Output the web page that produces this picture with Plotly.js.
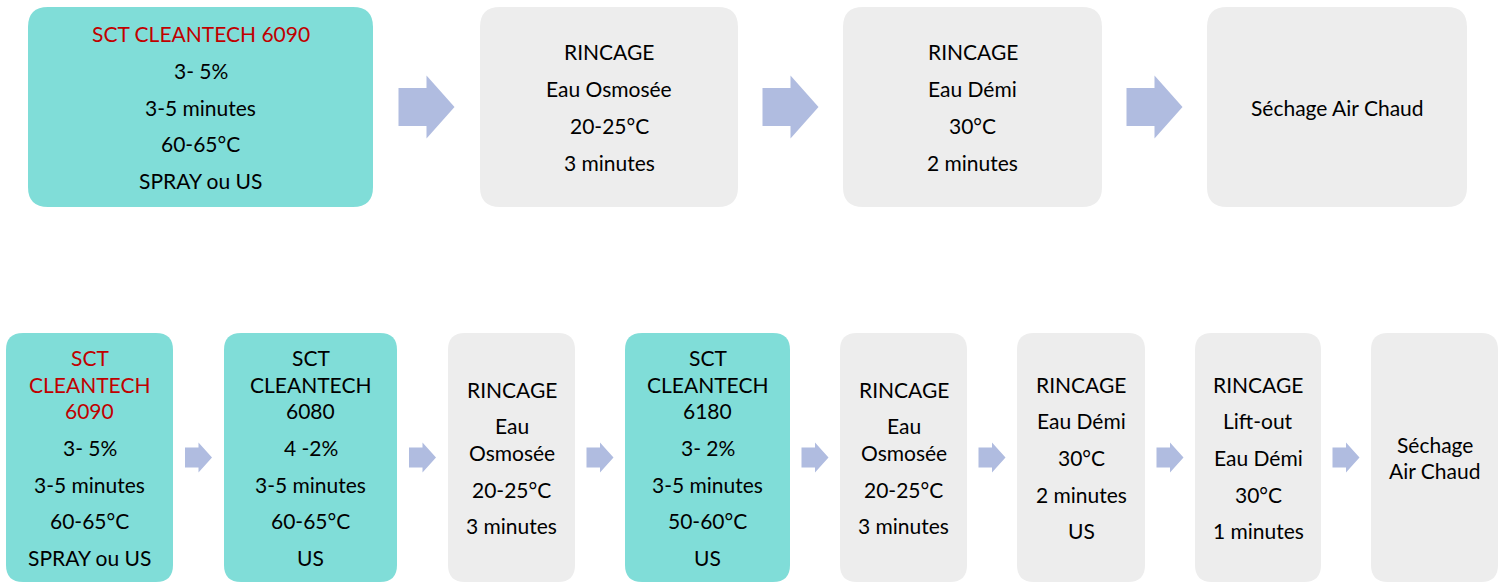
<!DOCTYPE html>
<html>
<head>
<meta charset="utf-8">
<script src="https://cdn.plot.ly/plotly-3.0.1.min.js"></script>
<style>
  html, body { margin: 0; padding: 0; background: #ffffff; }
  #chart { width: 1499px; height: 583px; }
</style>
</head>
<body>
<div id="chart"></div>
<script>
// ---------- DATA ----------
// Each step is a list of paragraphs; "\n" marks a wrapped line inside a paragraph.
const row1Steps = [
  ["SCT CLEANTECH 6090", "3- 5%", "3-5 minutes", "60-65°C", "SPRAY ou US"],
  ["RINCAGE", "Eau Osmosée", "20-25°C", "3 minutes"],
  ["RINCAGE", "Eau Démi", "30°C", "2 minutes"],
  ["Séchage Air Chaud"]
];
const row1Kinds = ["product", "rinse", "rinse", "rinse"];
const row1Highlight = [true, false, false, false];

const row2Steps = [
  ["SCT\nCLEANTECH\n6090", "3- 5%", "3-5 minutes", "60-65°C", "SPRAY ou US"],
  ["SCT\nCLEANTECH\n6080", "4 -2%", "3-5 minutes", "60-65°C", "US"],
  ["RINCAGE", "Eau\nOsmosée", "20-25°C", "3 minutes"],
  ["SCT\nCLEANTECH\n6180", "3- 2%", "3-5 minutes", "50-60°C", "US"],
  ["RINCAGE", "Eau\nOsmosée", "20-25°C", "3 minutes"],
  ["RINCAGE", "Eau Démi", "30°C", "2 minutes", "US"],
  ["RINCAGE", "Lift-out", "Eau Démi", "30°C", "1 minutes"],
  ["Séchage\nAir Chaud"]
];
const row2Kinds = ["product", "product", "rinse", "product", "rinse", "rinse", "rinse", "rinse"];
const row2Highlight = [true, false, false, false, false, false, false, false];

// ---------- LAYOUT GEOMETRY (pixels) ----------
const W = 1499, H = 583;
const row1Geom = { x0: [28, 480, 843, 1207], x1: [373, 738, 1102, 1467], y0: 7, y1: 207, r: 20,
                   arrowW: 56, arrowH: 63, shaftH: 38 };
const row2Geom = { x0: [6, 224, 448, 625, 840, 1017, 1195, 1371], x1: [173, 397, 575, 790, 967, 1145, 1321, 1498],
                   y0: 333, y1: 582, r: 17, arrowW: 27, arrowH: 30, shaftH: 20 };
const paraGap = 36.7, wrapGap = 26.5;

// ---------- STYLES ----------
const colors = { product: "#80DDD8", rinse: "#EDEDED", arrow: "#B0BCE0", red: "#C00000", text: "#000000" };
const fontFamily = "Lato, 'Open Sans', sans-serif";
const fontSize = 21;

function roundRect(x0, y0, x1, y1, r) {
  return `M${x0 + r},${y0} L${x1 - r},${y0} Q${x1},${y0} ${x1},${y0 + r} L${x1},${y1 - r} Q${x1},${y1} ${x1 - r},${y1} ` +
         `L${x0 + r},${y1} Q${x0},${y1} ${x0},${y1 - r} L${x0},${y0 + r} Q${x0},${y0} ${x0 + r},${y0} Z`;
}
function arrowPath(cx, cy, w, h, sh) {
  const x0 = cx - w / 2, xm = cx, x1 = cx + w / 2;
  return `M${x0},${cy - sh / 2} L${xm},${cy - sh / 2} L${xm},${cy - h / 2} L${x1},${cy} L${xm},${cy + h / 2} ` +
         `L${xm},${cy + sh / 2} L${x0},${cy + sh / 2} Z`;
}

const shapes = [], annotations = [];
function buildRow(steps, kinds, highlight, g) {
  steps.forEach((paras, i) => {
    const x0 = g.x0[i], x1 = g.x1[i];
    shapes.push({ type: "path", xref: "x", yref: "y", path: roundRect(x0, g.y0, x1, g.y1, g.r),
                  fillcolor: colors[kinds[i]], line: { width: 0 }, layer: "below" });
    const lines = [];
    let y = 0;
    paras.forEach((p, pi) => {
      const sub = p.split("\n");
      sub.forEach((s, si) => {
        if (lines.length > 0) y += (si === 0 ? paraGap : wrapGap);
        lines.push({ text: s, y: y, first: pi === 0 });
      });
    });
    const cy = (g.y0 + g.y1) / 2;
    const offset = cy - y / 2;
    lines.forEach(l => {
      annotations.push({
        xref: "x", yref: "y", x: (x0 + x1) / 2, y: l.y + offset, text: l.text, showarrow: false,
        xanchor: "center", yanchor: "middle",
        font: { family: fontFamily, size: fontSize, color: (highlight[i] && l.first) ? colors.red : colors.text }
      });
    });
    if (i < steps.length - 1) {
      const ax = (x1 + g.x0[i + 1]) / 2;
      shapes.push({ type: "path", xref: "x", yref: "y", path: arrowPath(ax, cy, g.arrowW, g.arrowH, g.shaftH),
                    fillcolor: colors.arrow, line: { width: 0 }, layer: "below" });
    }
  });
}
buildRow(row1Steps, row1Kinds, row1Highlight, row1Geom);
buildRow(row2Steps, row2Kinds, row2Highlight, row2Geom);

const layout = {
  width: W, height: H,
  margin: { l: 0, r: 0, t: 0, b: 0, pad: 0 },
  paper_bgcolor: "#ffffff", plot_bgcolor: "#ffffff",
  xaxis: { range: [0, W], visible: false, fixedrange: true },
  yaxis: { range: [H, 0], visible: false, fixedrange: true },
  showlegend: false,
  shapes: shapes,
  annotations: annotations
};
Plotly.newPlot("chart", [], layout, { displayModeBar: false, staticPlot: true });
</script>
</body>
</html>
